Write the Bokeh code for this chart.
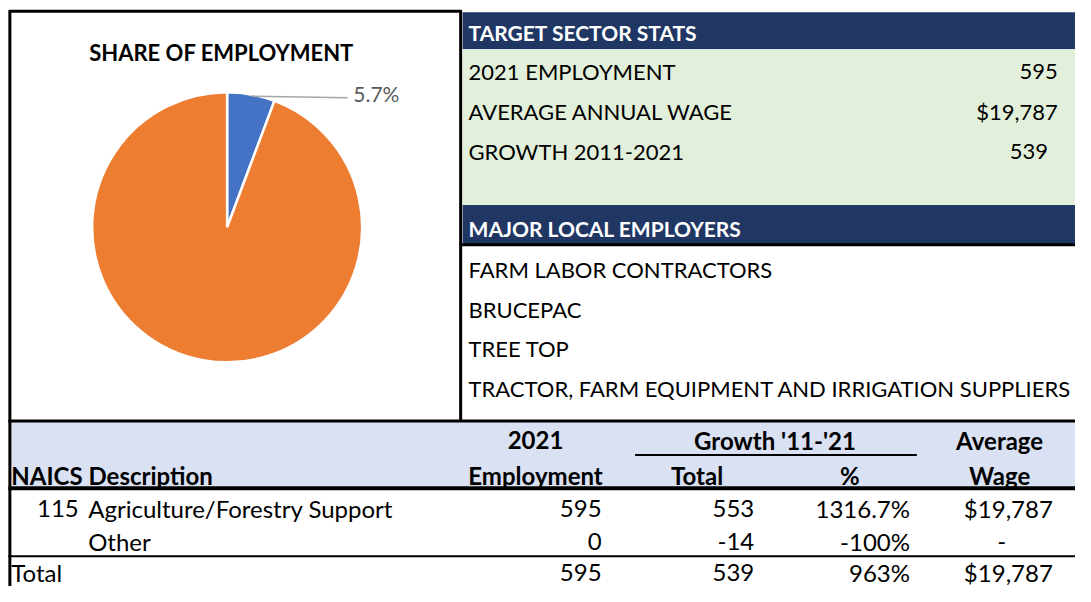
from bokeh.plotting import figure
from bokeh.models import Range1d
from bokeh.core.properties import value
from bokeh.embed import file_html
from bokeh.resources import INLINE
import math

# ---------------- data ----------------
pie_labels = ["Agriculture/Forestry Support", "All Other Employment"]
pie_shares = [5.7, 94.3]
pie_colors = ["#4472C4", "#ED7D31"]

stats_title = "TARGET SECTOR STATS"
stats_labels = ["2021 EMPLOYMENT", "AVERAGE ANNUAL WAGE", "GROWTH 2011-2021"]
stats_values = ["595", "$19,787", "539"]

employers_title = "MAJOR LOCAL EMPLOYERS"
employers = ["FARM LABOR CONTRACTORS", "BRUCEPAC", "TREE TOP",
             "TRACTOR, FARM EQUIPMENT AND IRRIGATION SUPPLIERS"]

naics_codes = ["115", ""]
descriptions = ["Agriculture/Forestry Support", "Other"]
emp_2021 = [595, 0]
growth_total = [553, -14]
growth_pct = ["1316.7%", "-100%"]
avg_wage = ["$19,787", "-"]
total_row = ["595", "539", "963%", "$19,787"]

# ---------------- figure ----------------
W, H = 1075, 586
RW, RH = 1091, 602
p = figure(width=W, height=H, x_range=Range1d(0, RW), y_range=Range1d(0, RH),
           output_backend="svg", toolbar_location=None, min_border=0)
p.axis.visible = False
p.grid.visible = False
p.outline_line_color = None
p.background_fill_color = "white"

def Y(r):
    return RH - r

FONT = value("Lato")
NAVY = "#203764"

def txt(x, y, s, size="22px", bold=False, color="black", align="left"):
    p.text(x=[x], y=[Y(y)], text=[s], text_font=FONT, text_font_size=size,
           text_font_style="bold" if bold else "normal", text_color=color,
           text_align=align, text_baseline="middle")

def hline(x0, x1, y, w=3, color="black"):
    p.line([x0, x1], [Y(y), Y(y)], line_color=color, line_width=w)

def vline(x, y0, y1, w=3, color="black"):
    p.line([x, x], [Y(y0), Y(y1)], line_color=color, line_width=w)

# background panels
p.quad(left=[469], right=[RW + 5], top=[Y(12)], bottom=[Y(50)], fill_color=NAVY, line_color=None)
p.quad(left=[469], right=[RW + 5], top=[Y(50)], bottom=[Y(210)], fill_color="#E2EFDA", line_color=None)
p.quad(left=[469], right=[RW + 5], top=[Y(210)], bottom=[Y(251)], fill_color=NAVY, line_color=None)
p.quad(left=[10], right=[RW + 5], top=[Y(433)], bottom=[Y(500)], fill_color="#D9E1F2", line_color=None)

# borders
hline(8.5, 468, 11)
vline(467, 10, 433)
vline(9.5, 10, RH + 5)
hline(466, RW + 5, 251, w=3)
hline(8, RW + 5, 432, w=3)
hline(8, RW + 5, 501, w=4)
hline(8, RW + 5, 571, w=2)
hline(644, 930, 467, w=2)

# ---------------- pie ----------------
cx, cy, r = 230, 233, 137
total = sum(pie_shares)
start = math.pi / 2
mids = []
for share, col in zip(pie_shares, pie_colors):
    sweep = 2 * math.pi * share / total
    end = start - sweep
    p.wedge(x=[cx], y=[Y(cy)], radius=r, start_angle=end, end_angle=start,
            fill_color=col, line_color="white", line_width=2.5)
    mids.append(start - sweep / 2)
    start = end

# leader line + label for first slice
ma = mids[0]
lx0, ly0 = cx + r * math.cos(ma), Y(cy) + r * math.sin(ma)
p.line([lx0, 352], [ly0, Y(100)], line_color="#A6A6A6", line_width=1.5)
txt(358, 96, f"{pie_shares[0]:.1f}%", size="21px", color="#595959")
txt(227, 53, "SHARE  OF EMPLOYMENT", size="22px", bold=True, align="center")

# ---------------- target sector stats ----------------
txt(475, 33, stats_title, size="21px", bold=True, color="white")
stat_y = [73, 114, 155]
stat_right = [1073, 1073, 1063]
for lab, val, yy, xr in zip(stats_labels, stats_values, stat_y, stat_right):
    txt(475, yy, lab)
    txt(xr, yy, val, align="right")

txt(475, 234, employers_title, size="21px", bold=True, color="white")
for i, e in enumerate(employers):
    txt(475, 276 + 41 * i, e)

# ---------------- bottom table ----------------
TS = "24px"
txt(543, 452, "2021", size=TS, bold=True, align="center")
txt(543, 488, "Employment", size=TS, bold=True, align="center")
txt(786, 452, "Growth '11-'21", size=TS, bold=True, align="center")
txt(707, 488, "Total", size=TS, bold=True, align="center")
txt(862, 488, "%", size=TS, bold=True, align="center")
txt(1014, 452, "Average", size=TS, bold=True, align="center")
txt(1014, 488, "Wage", size=TS, bold=True, align="center")
txt(11, 488, "NAICS Description", size=TS, bold=True)

row_y = [522, 556]
for code, desc, e, g, pc, w, yy in zip(naics_codes, descriptions, emp_2021, growth_total,
                                       growth_pct, avg_wage, row_y):
    if code:
        txt(37, yy, code, size=TS)
    txt(89, yy, desc, size=TS)
    txt(610, yy, f"{e:,}", size=TS, align="right")
    txt(765, yy, f"{g:,}", size=TS, align="right")
    txt(923, yy, pc, size=TS, align="right")
    if w == "-":
        txt(1016, yy, w, size=TS, align="center")
    else:
        txt(1068, yy, w, size=TS, align="right")

txt(11, 588, "Total", size=TS)
for s, xr in zip(total_row, [610, 765, 923, 1068]):
    txt(xr, 588, s, size=TS, align="right")

open("out.html", "w").write(file_html(p, INLINE))
